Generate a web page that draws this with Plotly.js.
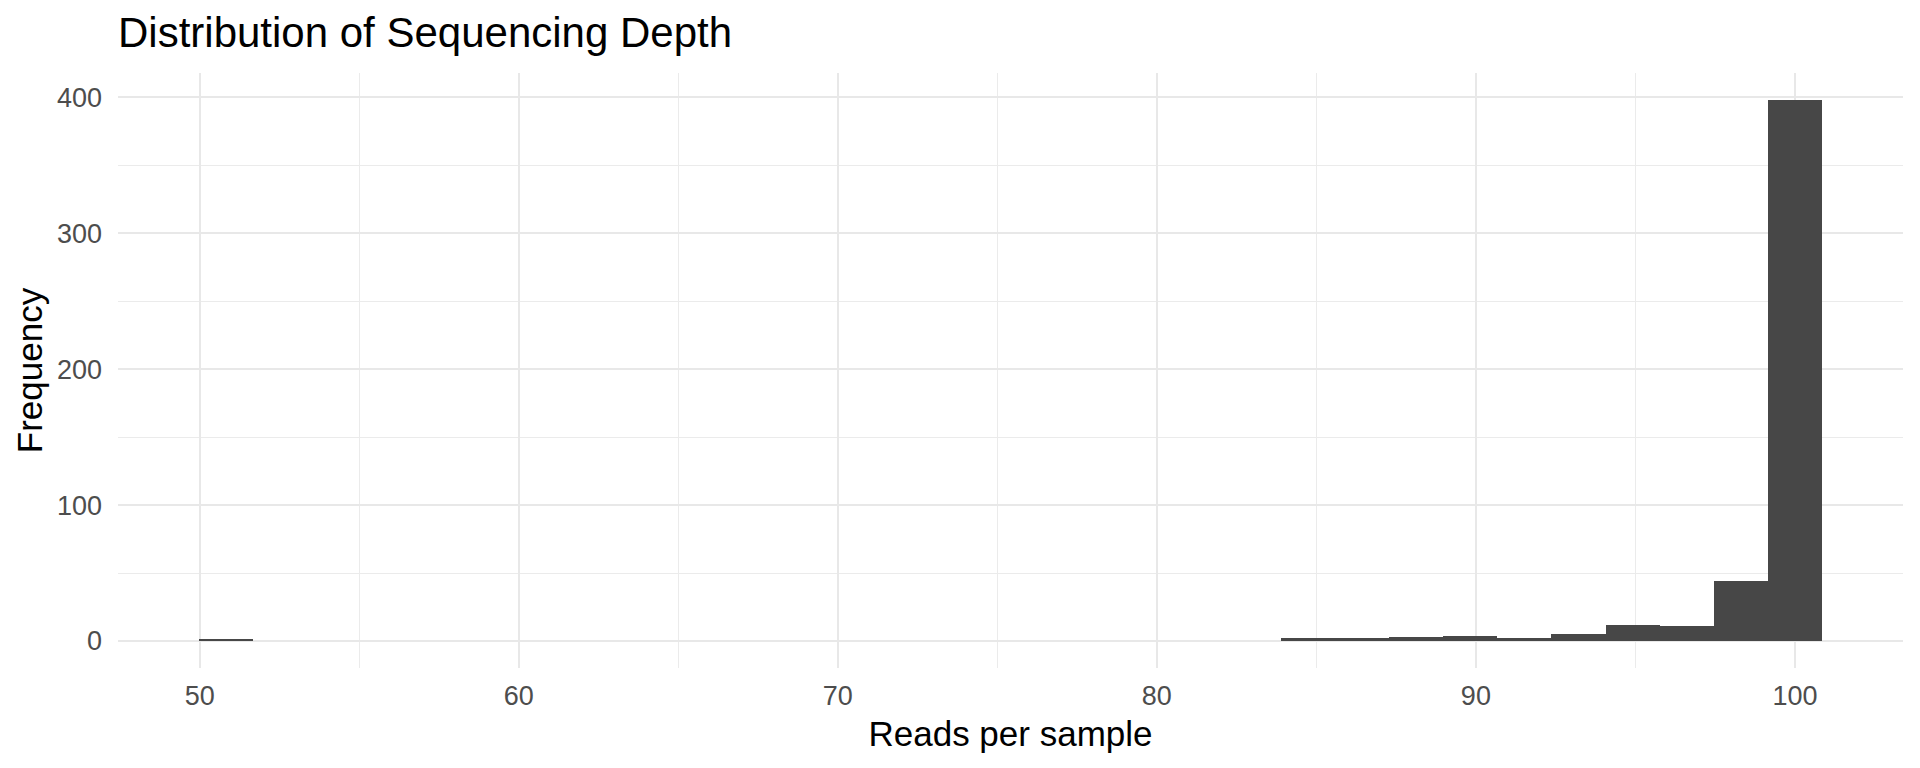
<!DOCTYPE html>
<html>
<head>
<meta charset="utf-8">
<script src="https://cdn.plot.ly/plotly-3.0.1.min.js"></script>
<style>
  html, body { margin: 0; padding: 0; background: #ffffff; }
  #chart { width: 1920px; height: 768px; }
</style>
</head>
<body>
<div id="chart"></div>
<script>
// Histogram bins (30 bins)
const binStart = 49.98;
const binWidth = 1.6955;
const binCounts = [1, 0, 0, 0, 0, 0, 0, 0, 0, 0,
                   0, 0, 0, 0, 0, 0, 0, 0, 0, 0,
                   2, 2, 3, 4, 2, 5, 12, 11, 44, 398];

// Axis ticks
const xTicks = [50, 60, 70, 80, 90, 100];
const yTicks = [0, 100, 200, 300, 400];

const chartTitle = "Distribution of Sequencing Depth";
const xTitle = "Reads per sample";
const yTitle = "Frequency";

const binCenters = binCounts.map((_, i) => binStart + (i + 0.5) * binWidth);
const binWidths = binCounts.map(() => binWidth);

const FONT = "Liberation Sans, Arial, Helvetica, sans-serif";

const trace = {
  type: "bar",
  x: binCenters,
  y: binCounts,
  width: binWidths,
  marker: { color: "#474747", line: { width: 0 } },
  hoverinfo: "x+y"
};

const xMin = binStart, xMax = binStart + binCounts.length * binWidth;
const xPad = (xMax - xMin) * 0.05;
const yMax = Math.max(...binCounts);
const yPad = yMax * 0.05;

const layout = {
  width: 1920,
  height: 768,
  paper_bgcolor: "#ffffff",
  plot_bgcolor: "#ffffff",
  margin: { l: 118, r: 17, t: 73, b: 100, pad: 0 },
  bargap: 0,
  showlegend: false,
  font: { family: FONT, color: "#4D4D4D" },
  title: {
    text: chartTitle,
    font: { family: FONT, size: 42, color: "#000000" },
    x: 0, xref: "paper", xanchor: "left",
    y: 1 - 47 / 768, yref: "container", yanchor: "bottom"
  },
  xaxis: {
    range: [xMin - xPad, xMax + xPad],
    tickvals: xTicks,
    ticktext: xTicks.map(String),
    ticks: "",
    tickfont: { family: FONT, size: 27, color: "#4D4D4D" },
    ticklabelstandoff: 9,
    showgrid: true,
    gridcolor: "#E8E8E8",
    gridwidth: 2.2,
    minor: { dtick: 5, tick0: 0, showgrid: true, gridcolor: "#EBEBEB", gridwidth: 1.1, ticks: "" },
    zeroline: false,
    showline: false,
    title: { text: xTitle, font: { family: FONT, size: 35, color: "#000000" }, standoff: 11 }
  },
  yaxis: {
    range: [-yPad, yMax + yPad],
    tickvals: yTicks,
    ticktext: yTicks.map(String),
    ticks: "",
    tickfont: { family: FONT, size: 27, color: "#4D4D4D" },
    ticklabelstandoff: 15,
    showgrid: true,
    gridcolor: "#E8E8E8",
    gridwidth: 2.2,
    minor: { dtick: 50, tick0: 0, showgrid: true, gridcolor: "#EBEBEB", gridwidth: 1.1, ticks: "" },
    zeroline: false,
    showline: false,
    title: { text: yTitle, font: { family: FONT, size: 35, color: "#000000" }, standoff: 3 }
  }
};

Plotly.newPlot("chart", [trace], layout, { displayModeBar: false, staticPlot: false });
</script>
</body>
</html>
